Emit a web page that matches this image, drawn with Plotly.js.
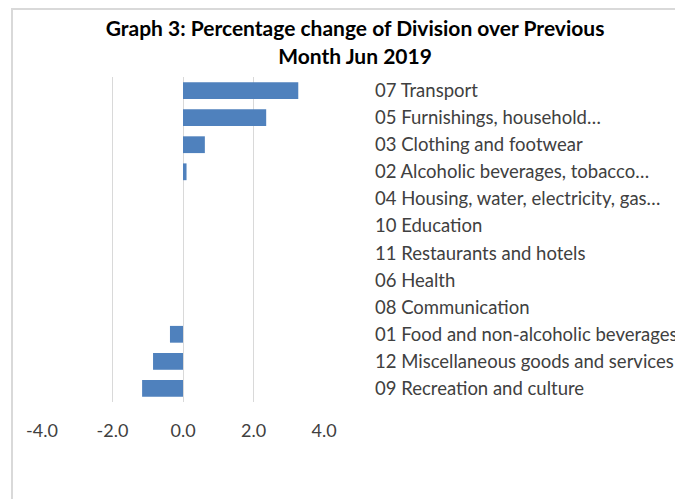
<!DOCTYPE html>
<html>
<head>
<meta charset="utf-8">
<script src="https://cdn.plot.ly/plotly-3.0.1.min.js"></script>
<style>
  html, body { margin: 0; padding: 0; background: #fff; overflow: hidden; }
  #chart { width: 675px; height: 499px; position: absolute; left: 0; top: 0; }
  #frame { position: absolute; left: 11px; top: 8px; width: 800px; height: 700px;
           border-left: 2px solid #d9d9d9; border-top: 2px solid #d9d9d9; pointer-events: none; }
</style>
</head>
<body>
<div id="chart"></div>
<div id="frame"></div>
<script>
const categories = [
  "07 Transport",
  "05 Furnishings, household…",
  "03 Clothing and footwear",
  "02 Alcoholic beverages, tobacco…",
  "04 Housing, water, electricity, gas…",
  "10 Education",
  "11 Restaurants and hotels",
  "06 Health",
  "08 Communication",
  "01 Food and non-alcoholic beverages",
  "12 Miscellaneous goods and services",
  "09 Recreation and culture"
];
const values = [3.27, 2.36, 0.62, 0.10, 0.0, 0.0, 0.0, 0.0, 0.0, -0.37, -0.85, -1.16];
const xTicks = [-4, -2, 0, 2, 4];
const xTickLabels = ["-4.0", "-2.0", "0.0", "2.0", "4.0"];
const titleText = "Graph 3: Percentage change of Division over Previous<br>Month Jun 2019";

const trace = {
  type: "bar",
  orientation: "h",
  y: categories,
  x: values,
  marker: { color: "#4f81bd", line: { width: 0 } },
  hoverinfo: "x+y"
};

const layout = {
  width: 675,
  height: 499,
  margin: { l: 42, r: 351, t: 77, b: 97 },
  paper_bgcolor: "#ffffff",
  plot_bgcolor: "#ffffff",
  showlegend: false,
  bargap: 0.38,
  font: { family: "Lato, 'Open Sans', sans-serif", color: "#404040", size: 18 },
  title: {
    text: "<b>" + titleText + "</b>",
    font: { family: "Lato, 'Open Sans', sans-serif", size: 21, color: "#000000" },
    x: 0.526, xanchor: "center",
    xref: "container",
    y: 0.927, yanchor: "middle", yref: "container"
  },
  xaxis: {
    range: [-4, 4],
    tickmode: "array",
    tickvals: xTicks,
    ticktext: xTickLabels,
    showgrid: true,
    gridcolor: "#d9d9d9",
    gridwidth: 1,
    zeroline: true,
    zerolinecolor: "#d9d9d9",
    zerolinewidth: 1,
    showline: false,
    ticks: "",
    ticklabelstandoff: 16,
    tickfont: { size: 18, color: "#404040" },
    fixedrange: true
  },
  yaxis: {
    type: "category",
    autorange: "reversed",
    side: "right",
    showgrid: false,
    zeroline: false,
    showline: false,
    ticks: "",
    ticklabelstandoff: 50,
    tickfont: { size: 18.5, color: "#404040" },
    fixedrange: true
  }
};

Plotly.newPlot("chart", [trace], layout, { displayModeBar: false, staticPlot: true });
</script>
</body>
</html>
